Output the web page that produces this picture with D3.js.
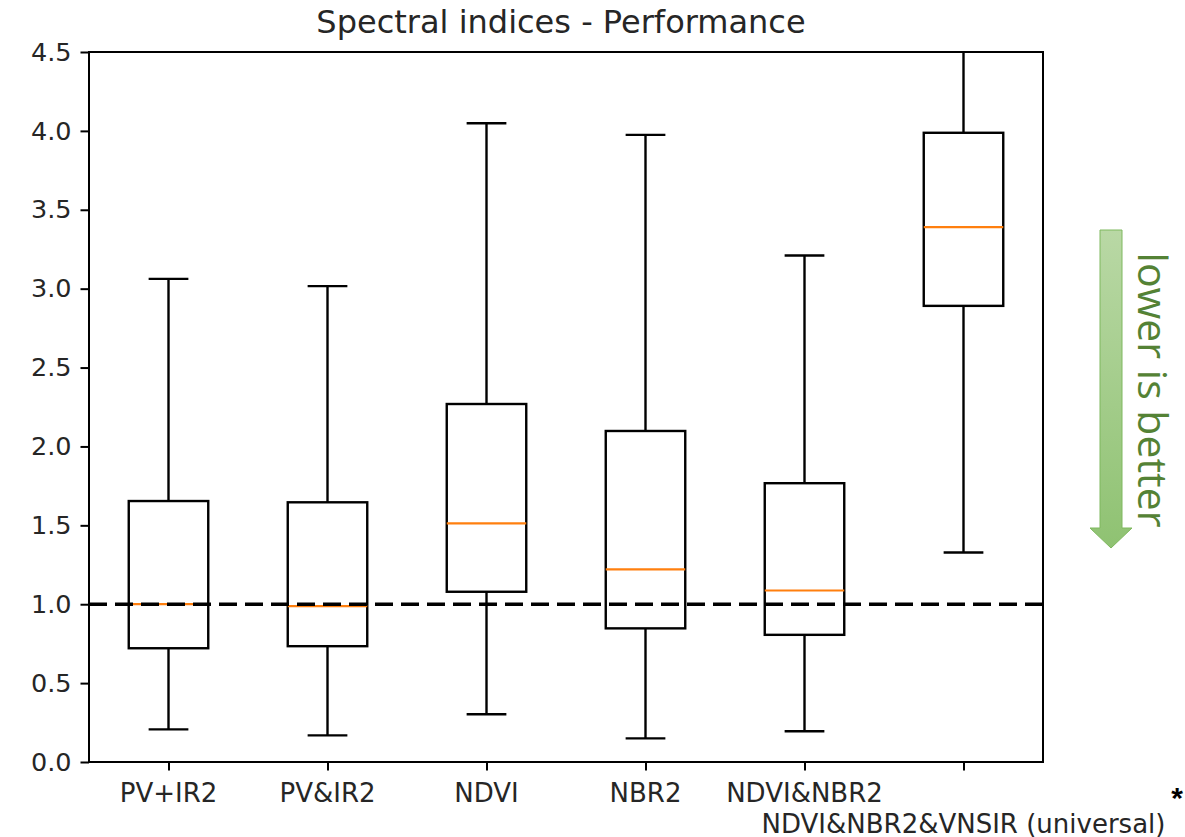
<!DOCTYPE html>
<html>
<head>
<meta charset="utf-8">
<script src="https://cdn.jsdelivr.net/npm/d3@7"></script>
<style>
  html, body { margin: 0; padding: 0; background: #fff; }
  svg { display: block; }
</style>
</head>
<body>
<svg id="chart" width="1185" height="837"></svg>
<script>
// ---- data ----
const categories = ["PV+IR2", "PV&IR2", "NDVI", "NBR2", "NDVI&NBR2", "NDVI&NBR2&VNSIR (universal)"];
const whiskerLow  = [0.207, 0.169, 0.303, 0.150, 0.195, 1.328];
const q1          = [0.721, 0.734, 1.079, 0.847, 0.806, 2.891];
const medians     = [1.000, 0.988, 1.513, 1.221, 1.087, 3.390];
const q3          = [1.654, 1.646, 2.269, 2.098, 1.767, 3.988];
const whiskerHigh = [3.062, 3.016, 4.048, 3.975, 3.210, 4.900];
const yTicks = [0.0, 0.5, 1.0, 1.5, 2.0, 2.5, 3.0, 3.5, 4.0, 4.5];
const referenceValue = 1.0;
const title = "Spectral indices - Performance";
const annotation = "lower is better";

// ---- layout ----
const svg = d3.select("#chart");
const L = 89, R = 1043, T = 52, B = 762;
const positions = categories.map((d, i) => i + 1);

const x = d3.scaleLinear().domain([0.5, categories.length + 0.5]).range([L, R]);
const y = d3.scaleLinear().domain([0, 4.5]).range([B, T]);
const boxW = x(1.25) - x(1);   // half width 0.25 units
const capW = x(1.125) - x(1);  // half cap 0.125 units

const font = "'DejaVu Sans', sans-serif";
const defs = svg.append("defs");

defs.append("clipPath").attr("id", "plotclip")
  .append("rect").attr("x", L).attr("y", T).attr("width", R - L).attr("height", B - T);

const plot = svg.append("g").attr("clip-path", "url(#plotclip)");

const data = categories.map((c, i) => ({
  c, p: positions[i], lo: whiskerLow[i], q1: q1[i], med: medians[i], q3: q3[i], hi: whiskerHigh[i]
}));

const g = plot.selectAll("g.box").data(data).enter().append("g").attr("class", "box");
const lw = 2.4;
// whiskers
g.append("line").attr("x1", d => x(d.p)).attr("x2", d => x(d.p))
  .attr("y1", d => y(d.lo)).attr("y2", d => y(d.q1)).attr("stroke", "#000").attr("stroke-width", lw);
g.append("line").attr("x1", d => x(d.p)).attr("x2", d => x(d.p))
  .attr("y1", d => y(d.q3)).attr("y2", d => y(d.hi)).attr("stroke", "#000").attr("stroke-width", lw);
// caps
g.append("line").attr("x1", d => x(d.p) - capW).attr("x2", d => x(d.p) + capW)
  .attr("y1", d => y(d.lo)).attr("y2", d => y(d.lo)).attr("stroke", "#000").attr("stroke-width", lw);
g.append("line").attr("x1", d => x(d.p) - capW).attr("x2", d => x(d.p) + capW)
  .attr("y1", d => y(d.hi)).attr("y2", d => y(d.hi)).attr("stroke", "#000").attr("stroke-width", lw);
// boxes
g.append("rect").attr("x", d => x(d.p) - boxW).attr("width", 2 * boxW)
  .attr("y", d => y(d.q3)).attr("height", d => y(d.q1) - y(d.q3))
  .attr("fill", "none").attr("stroke", "#000").attr("stroke-width", lw);
// medians
g.append("line").attr("x1", d => x(d.p) - boxW).attr("x2", d => x(d.p) + boxW)
  .attr("y1", d => y(d.med)).attr("y2", d => y(d.med)).attr("stroke", "#ff7f0e").attr("stroke-width", 2.2);

// reference dashed line
svg.append("line").attr("x1", L).attr("x2", R)
  .attr("y1", y(referenceValue)).attr("y2", y(referenceValue))
  .attr("stroke", "#000").attr("stroke-width", 3.6).attr("stroke-dasharray", "18,8");

// frame
svg.append("rect").attr("x", L).attr("y", T).attr("width", R - L).attr("height", B - T)
  .attr("fill", "none").attr("stroke", "#000").attr("stroke-width", 2);

// y axis
const yAxis = svg.append("g").attr("transform", `translate(${L},0)`)
  .call(d3.axisLeft(y).tickValues(yTicks).tickFormat(d3.format(".1f")).tickSize(8.5).tickPadding(9));
yAxis.select(".domain").remove();
yAxis.selectAll("line").attr("stroke", "#000").attr("stroke-width", 2);
yAxis.selectAll("text").attr("font-family", font).attr("font-size", 25.5).attr("fill", "#262626");

// x axis
const xAxis = svg.append("g").attr("transform", `translate(0,${B})`)
  .call(d3.axisBottom(x).tickValues(positions).tickFormat(() => "").tickSize(8.5));
xAxis.select(".domain").remove();
xAxis.selectAll("line").attr("stroke", "#000").attr("stroke-width", 2);

svg.append("g").selectAll("text").data(data).enter().append("text")
  .attr("x", d => x(d.p))
  .attr("y", (d, i) => i === categories.length - 1 ? 833 : 802)
  .attr("text-anchor", "middle")
  .attr("font-family", font).attr("font-size", 26).attr("fill", "#262626")
  .text(d => d.c);

// title
svg.append("text").attr("x", (L + R) / 2 - 5).attr("y", 33)
  .attr("text-anchor", "middle").attr("font-family", font).attr("font-size", 32)
  .attr("fill", "#262626").text(title);

// asterisk
svg.append("text").attr("x", 1177).attr("y", 808).attr("text-anchor", "middle")
  .attr("font-family", "'Liberation Sans', sans-serif").attr("font-size", 30).attr("font-weight", "bold")
  .attr("fill", "#000").text("*");

// arrow annotation
const grad = defs.append("linearGradient").attr("id", "arrowgrad")
  .attr("x1", 0).attr("y1", 0).attr("x2", 0).attr("y2", 1);
grad.append("stop").attr("offset", "0%").attr("stop-color", "#b9d8a5");
grad.append("stop").attr("offset", "100%").attr("stop-color", "#8fc272");

const ax0 = 1100, ax1 = 1122, aTop = 230, aNeck = 528, aTip = 548, hx0 = 1090, hx1 = 1132;
svg.append("path")
  .attr("d", `M${ax0},${aTop} L${ax1},${aTop} L${ax1},${aNeck} L${hx1},${aNeck} L${(hx0 + hx1) / 2},${aTip} L${hx0},${aNeck} L${ax0},${aNeck} Z`)
  .attr("fill", "url(#arrowgrad)").attr("stroke", "#7fb85e").attr("stroke-width", 1);

svg.append("text")
  .attr("transform", `translate(1138,390) rotate(90)`)
  .attr("text-anchor", "middle")
  .attr("font-family", "'Open Sans', sans-serif").attr("font-size", 41)
  .attr("fill", "#548235").text(annotation);
</script>
</body>
</html>
